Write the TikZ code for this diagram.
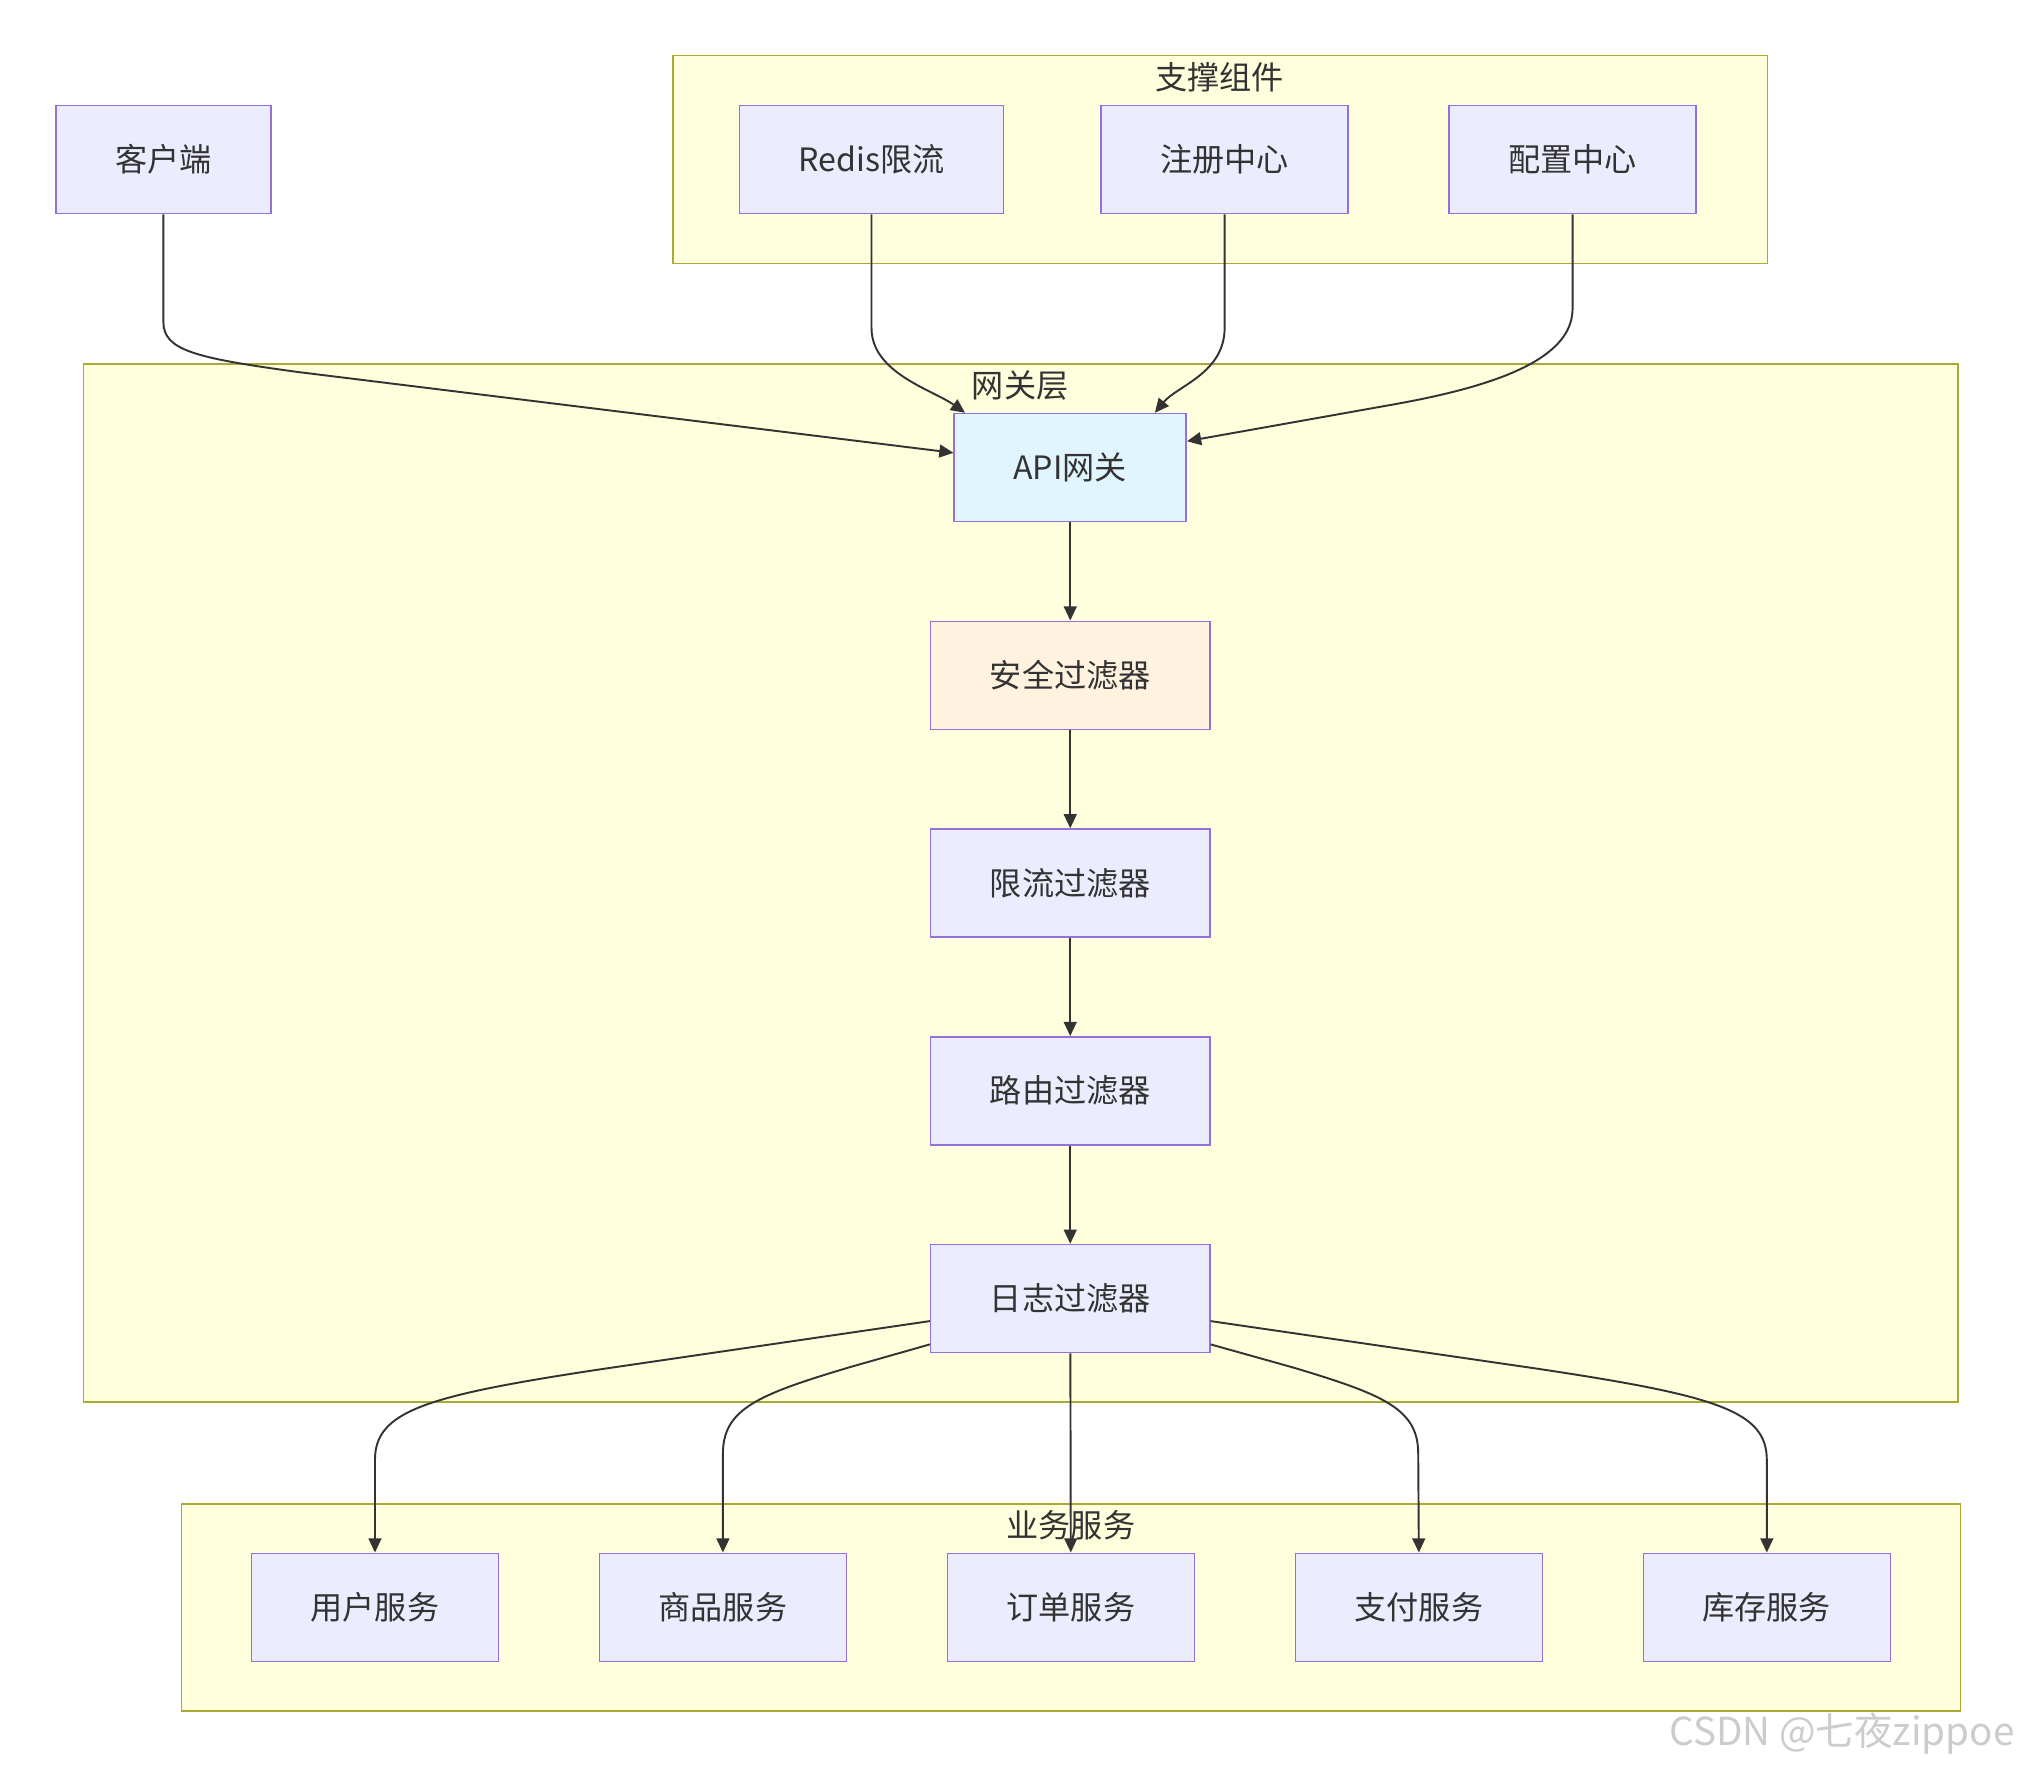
\documentclass[tikz,border=0pt]{standalone}
\usepackage{fontspec}
\setmainfont{Noto Sans CJK SC}
\usepackage{tikz}
\usetikzlibrary{arrows.meta,positioning}

\definecolor{boxfill}{HTML}{ECECFF}
\definecolor{boxline}{HTML}{9370DB}
\definecolor{grpfill}{HTML}{FFFFDE}
\definecolor{grpline}{HTML}{AAAA33}
\definecolor{apifill}{HTML}{E1F5FE}
\definecolor{secfill}{HTML}{FFF3E0}
\definecolor{edgeline}{HTML}{333333}

\begin{document}
\begin{tikzpicture}[x=0.5pt,y=-0.5pt,->,>={Triangle[length=5.5pt,width=5pt]},node distance=80.75pt]
\tikzstyle{svc}=[shape=rectangle,draw=boxline,fill=boxfill,line width=0.6pt,text=edgeline,inner xsep=23pt,minimum height=42pt,font=\fontsize{12.5pt}{15pt}\selectfont]
\tikzstyle{grp}=[-,draw=grpline,fill=grpfill,line width=0.6pt]
\tikzstyle{grptitle}=[text=edgeline,font=\fontsize{12.5pt}{15pt}\selectfont]
\tikzstyle{flow}=[color=edgeline,line width=0.75pt]
\useasboundingbox (0,0) rectangle (1568,1374);
% groups
\draw[grp] (523,43) rectangle (1374,205);
\node[grptitle] (suptitle) at (948,60) {支撑组件};
\draw[grp] (65,283) rectangle (1522,1090);
\node[grptitle] (gwtitle) at (793,300) {网关层};
\draw[grp] (141,1169) rectangle (1524,1330);
\node[grptitle] (biztitle) at (832.5,1186) {业务服务};
% top row
\node[svc] (client) at (127,124) {客户端};
\node[svc] (redis) at (677.5,124) {Redis限流};
\node[svc] (registry) at (952,124) {注册中心};
\node[svc] (config) at (1222.5,124) {配置中心};
% gateway chain
\node[svc,fill=apifill] (api) at (832,363.5) {API网关};
\node[svc,fill=secfill] (secf) [below of=api] {安全过滤器};
\node[svc] (ratef) [below of=secf] {限流过滤器};
\node[svc] (routef) [below of=ratef] {路由过滤器};
\node[svc] (logf) [below of=routef] {日志过滤器};
% services
\node[svc] (order) at (832.5,1249.5) {订单服务};
\node[svc] (goods) [left of=order,node distance=135.25pt] {商品服务};
\node[svc] (user) [left of=goods,node distance=135.25pt] {用户服务};
\node[svc] (pay) [right of=order,node distance=135.25pt] {支付服务};
\node[svc] (stock) [right of=pay,node distance=135.25pt] {库存服务};
% into the gateway
\draw[flow] (client.south) -- (127,250) .. controls (127,272) and (150,278) .. (230,289) -- ([yshift=5.75pt]api.west);
\draw[flow] (redis.south) -- (677.5,255) .. controls (677.5,290) and (725,303) .. ([xshift=4.5pt]api.north west);
\draw[flow] (registry.south) -- (952,255) .. controls (952,290) and (915,300) .. ([xshift=-12.5pt]api.north east);
\draw[flow] (config.south) -- (1222.5,240) .. controls (1222.5,280) and (1160,301) .. (1080,315) -- ([yshift=10.25pt]api.east);
\path[flow] (api) edge (secf)
	(secf) edge (ratef)
	(ratef) edge (routef)
	(routef) edge (logf)
	(logf) edge (order);
% out to the services
\draw[flow] ([yshift=-8.75pt]logf.west) -- (470,1064) .. controls (330,1085) and (291.5,1097) .. (291.5,1135) -- (user.north);
\draw[flow] ([yshift=3.5pt]logf.south west) -- (660,1063) .. controls (590,1084) and (562,1095) .. (562,1130) -- (goods.north);
\draw[flow] ([yshift=3.5pt]logf.south east) -- (1005,1063) .. controls (1075,1084) and (1102.5,1095) .. (1102.5,1130) -- (pay.north);
\draw[flow] ([yshift=-8.75pt]logf.east) -- (1195,1064) .. controls (1335,1085) and (1373.5,1097) .. (1373.5,1135) -- (stock.north);
\node[text=gray!40,font=\fontsize{15pt}{18pt}\selectfont] (mark) at (1432,1348) {CSDN @七夜zippoe};
\end{tikzpicture}
\end{document}
